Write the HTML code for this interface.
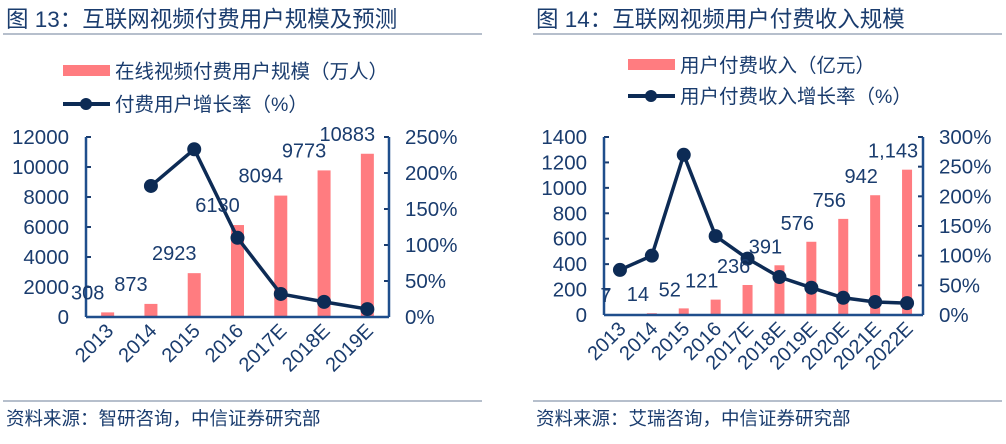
<!DOCTYPE html>
<html><head><meta charset="utf-8"><style>
body{margin:0;background:#fff;width:1006px;height:439px;overflow:hidden}
svg text{font-family:"Liberation Sans","Noto Sans CJK SC",sans-serif}
</style></head><body>
<svg width="1006" height="439">
<g>
<text x="6" y="27" font-size="22.5" fill="#1a3c6e">图 13：互联网视频付费用户规模及预测</text>
<line x1="3" y1="34" x2="482" y2="34" stroke="#8a99ad" stroke-width="1.2"/>
<rect x="63" y="65" width="47" height="11" fill="#ff7c80"/>
<text x="115" y="78" font-size="19.5" fill="#1a3c6e">在线视频付费用户规模（万人）</text>
<line x1="63" y1="104" x2="110" y2="104" stroke="#0d2b55" stroke-width="4"/>
<circle cx="86" cy="104" r="6" fill="#0d2b55"/>
<text x="115" y="111" font-size="19.5" fill="#1a3c6e">付费用户增长率（%）</text>
<g id="L"></g>
<line x1="3" y1="401" x2="482" y2="401" stroke="#8a99ad" stroke-width="1.2"/>
<text x="6" y="425" font-size="18.5" fill="#1a3c6e">资料来源：智研咨询，中信证券研究部</text>
</g>
<g>
<text x="536" y="27" font-size="22.5" fill="#1a3c6e">图 14：互联网视频用户付费收入规模</text>
<line x1="533" y1="34" x2="1002" y2="34" stroke="#8a99ad" stroke-width="1.2"/>
<rect x="628" y="59" width="47" height="11" fill="#ff7c80"/>
<text x="680" y="72" font-size="19.5" fill="#1a3c6e">用户付费收入（亿元）</text>
<line x1="628" y1="96" x2="675" y2="96" stroke="#0d2b55" stroke-width="4"/>
<circle cx="651" cy="96" r="6" fill="#0d2b55"/>
<text x="680" y="103" font-size="19.5" fill="#1a3c6e">用户付费收入增长率（%）</text>
<g id="R"></g>
<line x1="533" y1="401" x2="1002" y2="401" stroke="#8a99ad" stroke-width="1.2"/>
<text x="536" y="425" font-size="18.5" fill="#1a3c6e">资料来源：艾瑞咨询，中信证券研究部</text>
</g>
</svg>
<script>
const leftCats=["2013","2014","2015","2016","2017E","2018E","2019E"];
const leftBars=[308,873,2923,6130,8094,9773,10883];
const leftBarLabels=["308","873","2923","6130","8094","9773","10883"];
const leftGrowth=[null,182,233,110,32,21,11];
const leftTicks=[0,2000,4000,6000,8000,10000,12000];
const leftPctTicks=[0,50,100,150,200,250];

const rightCats=["2013","2014","2015","2016","2017E","2018E","2019E","2020E","2021E","2022E"];
const rightBars=[7,14,52,121,236,391,576,756,942,1143];
const rightBarLabels=["7","14","52","121","236","391","576","756","942","1,143"];
const rightGrowth=[76,100,270,133,95,64,46,29,22,20];
const rightTicks=[0,200,400,600,800,1000,1200,1400];
const rightPctTicks=[0,50,100,150,200,250,300];

const NS="http://www.w3.org/2000/svg";
const C="#1a3c6e";
function mk(p,t,a,txt){const e=document.createElementNS(NS,t);for(const k in a)e.setAttribute(k,a[k]);if(txt!=null)e.textContent=txt;p.appendChild(e);return e;}

function draw(gid,o){
  const g=document.getElementById(gid);
  const n=o.cats.length,bw=(o.x1-o.x0)/n;
  const yL=v=>o.y0-(v/o.maxL)*(o.y0-o.yTop);
  const yR=v=>o.y0-(v/o.maxR)*(o.y0-o.yTop);
  const xc=i=>o.x0+bw*(i+0.5);
  o.ticks.forEach(t=>{
    const e=mk(g,"text",{x:o.x0-17,y:yL(t)+7,"font-size":20.5,"text-anchor":"end",fill:C},t);
    
    
    const l=mk(g,"line",{x1:o.x0,x2:o.x0+5,y1:yL(t),y2:yL(t),stroke:C,"stroke-width":2});
    
    
  });
  o.pct.forEach(t=>{
    const e=mk(g,"text",{x:o.x1+16,y:yR(t)+7,"font-size":20.5,fill:C},t+"%");
    
    
    const l=mk(g,"line",{x1:o.x1-5,x2:o.x1,y1:yR(t),y2:yR(t),stroke:C,"stroke-width":2});
    
    
  });
  o.bars.forEach((v,i)=>{
    const r=mk(g,"rect",{x:xc(i)-o.barW/2,y:yL(v),width:o.barW,height:o.y0-yL(v),fill:"#ff7c80"});
    
    
  });
  const la=mk(g,"line",{x1:o.x0,x2:o.x0,y1:o.yTop,y2:o.y0,stroke:"#1f4e8c","stroke-width":2.5});
  
  
  const ra=mk(g,"line",{x1:o.x1,x2:o.x1,y1:o.yTop,y2:o.y0,stroke:"#1f4e8c","stroke-width":2.5});
  
  
  const xa=mk(g,"line",{x1:o.x0,x2:o.x1,y1:o.y0,y2:o.y0,stroke:"#1f4e8c","stroke-width":2.5});
  
  
  let pts=[];
  o.growth.forEach((v,i)=>{if(v!=null)pts.push(xc(i)+","+yR(v));});
  const pl=mk(g,"polyline",{points:pts.join(" "),fill:"none",stroke:"#0d2b55","stroke-width":3.5});
  
  
  o.growth.forEach((v,i)=>{if(v==null)return;
    const c=mk(g,"circle",{cx:xc(i),cy:yR(v),r:7,fill:"#0d2b55"});
    
    
  });
  o.bars.forEach((v,i)=>{
    const e=mk(g,"text",{x:xc(i)-o.lblShift,y:yL(v)-o.lblGap,"font-size":20,"text-anchor":"middle",fill:C},o.labels[i]);
    
    
  });
  o.cats.forEach((c,i)=>{
    const x=xc(i)+7,y=o.y0+15;
    const e=mk(g,"text",{x:x,y:y,"font-size":20,"text-anchor":"end",fill:C,transform:`rotate(-45 ${x} ${y})`},c);
    
    
  });
}
draw("L",{cats:leftCats,bars:leftBars,labels:leftBarLabels,growth:leftGrowth,ticks:leftTicks,pct:leftPctTicks,
  x0:86,x1:389,y0:317,yTop:137,maxL:12000,maxR:250,barW:13,lblShift:20,lblGap:13});
draw("R",{cats:rightCats,bars:rightBars,labels:rightBarLabels,growth:rightGrowth,ticks:rightTicks,pct:rightPctTicks,
  x0:604,x1:923,y0:315,yTop:137,maxL:1400,maxR:300,barW:10,lblShift:14,lblGap:12});
</script>
</body></html>
